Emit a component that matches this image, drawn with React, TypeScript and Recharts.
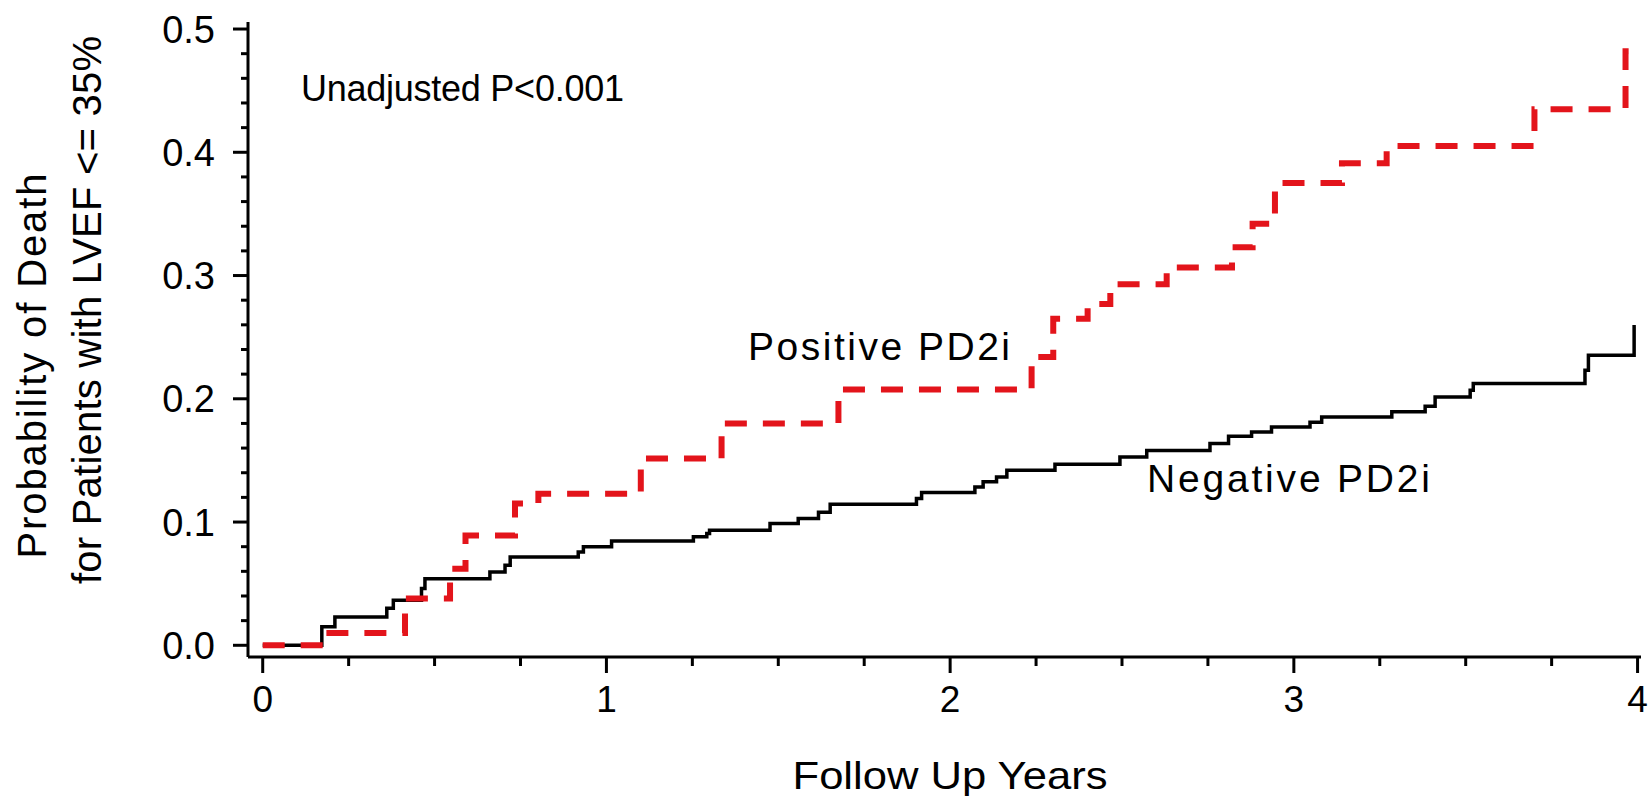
import { LineChart, Line, XAxis, YAxis } from "recharts";

// Kaplan-Meier style cumulative death probability
const posTimes = [0, 0.181, 0.414, 0.545, 0.59, 0.734, 0.802, 1.1, 1.335, 1.675, 2.237, 2.3, 2.4, 2.466, 2.63, 2.82, 2.88, 2.945, 3.14, 3.27, 3.7, 3.965, 3.99];
const posProb = [0, 0.01, 0.038, 0.062, 0.089, 0.115, 0.123, 0.1515, 0.18, 0.2075, 0.234, 0.265, 0.277, 0.293, 0.3066, 0.323, 0.342, 0.375, 0.391, 0.405, 0.435, 0.482, 0.482];

const negTimes = [0, 0.172, 0.21, 0.361, 0.38, 0.462, 0.472, 0.661, 0.705, 0.72, 0.918, 0.933, 1.015, 1.253, 1.292, 1.3, 1.476, 1.558, 1.617, 1.651, 1.902, 1.917, 2.072, 2.096, 2.135, 2.165, 2.305, 2.494, 2.572, 2.756, 2.81, 2.877, 2.935, 3.047, 3.081, 3.285, 3.382, 3.411, 3.513, 3.522, 3.847, 3.857, 3.99, 3.995];
const negProb = [0, 0.015, 0.023, 0.03, 0.0365, 0.046, 0.054, 0.0595, 0.065, 0.0717, 0.0757, 0.08, 0.0847, 0.088, 0.0907, 0.0933, 0.0988, 0.1028, 0.108, 0.1144, 0.119, 0.124, 0.1285, 0.1326, 0.1366, 0.142, 0.1469, 0.1528, 0.158, 0.1637, 0.1696, 0.173, 0.1772, 0.181, 0.1853, 0.1894, 0.194, 0.2015, 0.207, 0.2124, 0.2232, 0.2354, 0.2584, 0.2584];

const xTicks = [0, 0.25, 0.5, 0.75, 1, 1.25, 1.5, 1.75, 2, 2.25, 2.5, 2.75, 3, 3.25, 3.5, 3.75, 4];
const yTicks = [0, 0.02, 0.04, 0.06, 0.08, 0.1, 0.12, 0.14, 0.16, 0.18, 0.2, 0.22, 0.24, 0.26, 0.28, 0.3, 0.32, 0.34, 0.36, 0.38, 0.4, 0.42, 0.44, 0.46, 0.48, 0.5];

const posData = posTimes.map((t, i) => ({ t, p: posProb[i] }));
const negData = negTimes.map((t, i) => ({ t, p: negProb[i] }));

const FONT = "'Liberation Sans', Arial, sans-serif";

function YTick({ x, y, payload }: any) {
  const v = payload.value;
  const major = Math.abs(v * 10 - Math.round(v * 10)) < 1e-6;
  return (
    <g>
      <line x1={x - (major ? 15 : 7)} x2={x} y1={y} y2={y} stroke="#000" strokeWidth={3} />
      {major && (
        <text x={x - 33} y={y} dy="0.36em" textAnchor="end" fontSize={38} fontFamily={FONT} fill="#000">
          {v.toFixed(1)}
        </text>
      )}
    </g>
  );
}

function XTick({ x, y, payload }: any) {
  const v = payload.value;
  const major = Number.isInteger(v);
  return (
    <g>
      <line x1={x} x2={x} y1={y} y2={y + (major ? 16 : 9)} stroke="#000" strokeWidth={3} />
      {major && (
        <text x={x} y={y + 55} textAnchor="middle" fontSize={37} fontFamily={FONT} fill="#000">
          {v}
        </text>
      )}
    </g>
  );
}

export default function App() {
  return (
    <div style={{ position: "absolute", left: 0, top: 0, width: 1648, height: 796, background: "#fff" }}>
      <LineChart width={1648} height={796} margin={{ top: 22, right: 7, left: 188, bottom: 99 }}>
        <XAxis
          dataKey="t"
          type="number"
          domain={[-0.0428, 4.01]}
          ticks={xTicks}
          interval={0}
          allowDataOverflow
          height={40}
          tickSize={0}
          tickMargin={0}
          tickLine={false}
          tick={<XTick />}
          axisLine={{ stroke: "#000", strokeWidth: 3 }}
        />
        <YAxis
          type="number"
          domain={[-0.0095, 0.5057]}
          ticks={yTicks}
          interval={0}
          allowDataOverflow
          width={60}
          tickSize={0}
          tickMargin={0}
          tickLine={false}
          tick={<YTick />}
          axisLine={{ stroke: "#000", strokeWidth: 3 }}
        />
        <Line
          data={negData}
          dataKey="p"
          type="stepAfter"
          stroke="#000"
          strokeWidth={3.5}
          dot={false}
          isAnimationActive={false}
        />
        <Line
          data={posData}
          dataKey="p"
          type="stepAfter"
          stroke="#e3141b"
          strokeWidth={6}
          strokeDasharray="22 16"
          dot={false}
          isAnimationActive={false}
        />
      </LineChart>
      <svg
        width={1648}
        height={796}
        style={{ position: "absolute", left: 0, top: 0, pointerEvents: "none" }}
        fontFamily={FONT}
        fill="#000"
      >
        <text x={301} y={101} fontSize={36} textLength={323} lengthAdjust="spacing">
          Unadjusted P&lt;0.001
        </text>
        <text x={748} y={360} fontSize={39} textLength={262} lengthAdjust="spacing">
          Positive PD2i
        </text>
        <text x={1147} y={492} fontSize={39} textLength={283} lengthAdjust="spacing">
          Negative PD2i
        </text>
        <text x={950} y={789} fontSize={39} textAnchor="middle" textLength={315} lengthAdjust="spacingAndGlyphs">
          Follow Up Years
        </text>
        <text transform="translate(46,366) rotate(-90)" fontSize={40} textAnchor="middle" textLength={385} lengthAdjust="spacing">
          Probability of Death
        </text>
        <text transform="translate(101,310) rotate(-90)" fontSize={40} textAnchor="middle" textLength={548} lengthAdjust="spacing">
          for Patients with LVEF &lt;= 35%
        </text>
      </svg>
    </div>
  );
}
